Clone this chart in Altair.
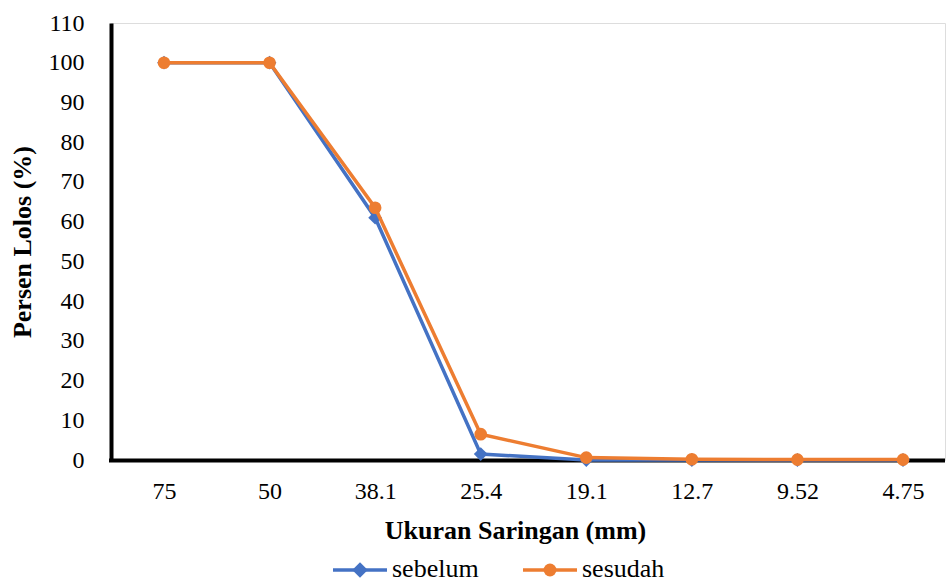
import altair as alt
import pandas as pd

categories = ["75", "50", "38.1", "25.4", "19.1", "12.7", "9.52", "4.75"]
sebelum = [100, 100, 61.0, 1.5, 0.0, 0.0, 0.0, 0.0]
sesudah = [100, 100, 63.5, 6.5, 0.6, 0.2, 0.1, 0.1]
y_ticks = list(range(0, 111, 10))

BLUE = "#4472C4"
ORANGE = "#ED7D31"
FONT = "Liberation Serif"
W, H = 834, 437

df_a = pd.DataFrame({"ukuran": categories, "persen": sebelum, "seri": "sebelum"})
df_b = pd.DataFrame({"ukuran": categories, "persen": sesudah, "seri": "sesudah"})

x_enc = alt.X("ukuran:N", sort=categories,
              scale=alt.Scale(type="point", range=[53, 792], padding=0),
              axis=alt.Axis(title="Ukuran Saringan (mm)", domain=False, ticks=False,
                            labelAngle=0, labelFontSize=24, labelFont=FONT, labelColor="black",
                            labelPadding=19, titleFontSize=26, titleFont=FONT, titleFontWeight="bold",
                            titleColor="black", titlePadding=14, titleX=404, grid=False))
y_enc = alt.Y("persen:Q", scale=alt.Scale(domain=[0, 110], nice=False),
              axis=alt.Axis(title="Persen Lolos (%)", values=y_ticks, ticks=False, grid=False,
                            domainColor="black", domainWidth=4,
                            labelFontSize=24, labelFont=FONT, labelColor="black", labelPadding=27,
                            titleFontSize=26, titleFont=FONT, titleFontWeight="bold",
                            titleColor="black", titlePadding=13))

line_a = alt.Chart(df_a).mark_line(color=BLUE, strokeWidth=3.5).encode(x=x_enc, y=y_enc)
pts_a = alt.Chart(df_a).mark_point(shape="diamond", filled=True, color=BLUE, size=190, opacity=1).encode(x=x_enc, y=y_enc)
line_b = alt.Chart(df_b).mark_line(color=ORANGE, strokeWidth=3.5).encode(x=x_enc, y=y_enc)
pts_b = alt.Chart(df_b).mark_point(shape="circle", filled=True, color=ORANGE, size=160, opacity=1).encode(x=x_enc, y=y_enc)

baseline = alt.Chart(pd.DataFrame({"v": [0]})).mark_rule(color="black", strokeWidth=4).encode(
    x=alt.value(-2), x2=alt.value(W), y=alt.value(H + 0.5))

# legend
LY = 547
leg = []
for name, color, shape, x0, sz in [("sebelum", BLUE, "diamond", 222, 240), ("sesudah", ORANGE, "circle", 412, 165)]:
    d = pd.DataFrame({"seri": [name]})
    leg.append(alt.Chart(d).mark_rule(color=color, strokeWidth=3.5).encode(
        x=alt.value(x0), x2=alt.value(x0 + 54), y=alt.value(LY)))
    leg.append(alt.Chart(d).mark_point(shape=shape, filled=True, color=color, size=sz, opacity=1).encode(
        x=alt.value(x0 + 27), y=alt.value(LY)))
    leg.append(alt.Chart(d).mark_text(align="left", baseline="middle", font=FONT, fontSize=26, color="black").encode(
        text="seri:N", x=alt.value(x0 + 59), y=alt.value(LY - 1)))

chart = alt.layer(baseline, line_a, pts_a, line_b, pts_b, *leg).properties(
    width=W, height=H,
    autosize=alt.AutoSizeParams(type="none"),
    padding={"left": 111, "top": 23, "right": 5, "bottom": 124},
).configure_view(stroke=None).configure(background="white")

chart.save("out.html", embed_options={"renderer": "svg", "actions": False})
